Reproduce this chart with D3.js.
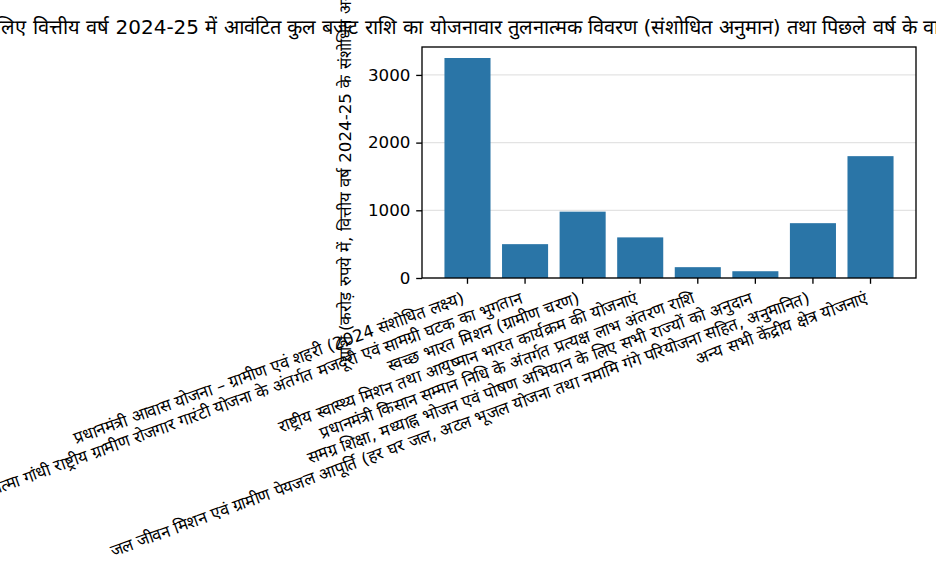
<!DOCTYPE html>
<html lang="hi">
<head>
<meta charset="utf-8">
<title>योजनावार बजट राशि</title>
<script src="https://cdn.jsdelivr.net/npm/d3@7/dist/d3.min.js"></script>
<style>
  body { margin: 0; background: #fff; }
  svg { display: block; font-family: "DejaVu Sans", sans-serif; }
</style>
</head>
<body>
<svg id="svg" width="936" height="572"></svg>
<script>
// --- data
var categories = [
  "प्रधानमंत्री आवास योजना – ग्रामीण एवं शहरी (2024 संशोधित लक्ष्य)",
  "महात्मा गांधी राष्ट्रीय ग्रामीण रोजगार गारंटी योजना के अंतर्गत मजदूरी एवं सामग्री घटक का भुगतान",
  "स्वच्छ भारत मिशन (ग्रामीण चरण)",
  "राष्ट्रीय स्वास्थ्य मिशन तथा आयुष्मान भारत कार्यक्रम की योजनाएं",
  "प्रधानमंत्री किसान सम्मान निधि के अंतर्गत प्रत्यक्ष लाभ अंतरण राशि",
  "समग्र शिक्षा, मध्याह्न भोजन एवं पोषण अभियान के लिए सभी राज्यों को अनुदान",
  "जल जीवन मिशन एवं ग्रामीण पेयजल आपूर्ति (हर घर जल, अटल भूजल योजना तथा नमामि गंगे परियोजना सहित, अनुमानित)",
  "अन्य सभी केंद्रीय क्षेत्र योजनाएं"
];
var values = [3250, 500, 980, 600, 160, 100, 810, 1800];
var yTicks = [0, 1000, 2000, 3000];

var titleText = "भारत सरकार की प्रमुख केंद्रीय योजनाओं के लिए वित्तीय वर्ष 2024-25 में आवंटित कुल बजट राशि का योजनावार तुलनात्मक विवरण (संशोधित अनुमान) तथा पिछले वर्ष के वास्तविक व्यय के साथ इन योजनाओं की प्रगति का संक्षिप्त विश्लेषण एवं आगामी वर्ष के प्रस्तावित लक्ष्य";
var yLabelText = "राशि (करोड़ रुपये में, वित्तीय वर्ष 2024-25 के संशोधित अनुमान)";

// --- axes box (matplotlib-like, 120 dpi)
var axLeft = 422, axRight = 916, axTop = 47, axBottom = 278;
var tickLen = 5.8, pad = 5.8;

var svg = d3.select("#svg");
svg.append("rect").attr("width", 936).attr("height", 572).attr("fill", "#fff");

var x = d3.scaleBand()
    .domain(categories)
    .range([axLeft, axRight])
    .paddingInner(0.2)
    .paddingOuter(0.39);

var y = d3.scaleLinear()
    .domain([0, d3.max(values) * 1.05])
    .range([axBottom, axTop]);

// grid
svg.append("g")
  .selectAll("line")
  .data(yTicks)
  .enter().append("line")
    .attr("x1", axLeft).attr("x2", axRight)
    .attr("y1", function(d) { return y(d); })
    .attr("y2", function(d) { return y(d); })
    .attr("stroke", "#e3e3e3")
    .attr("stroke-width", 1.2);

// bars
svg.append("g")
  .selectAll("rect")
  .data(values)
  .enter().append("rect")
    .attr("x", function(d, i) { return x(categories[i]); })
    .attr("y", function(d) { return y(d); })
    .attr("width", x.bandwidth())
    .attr("height", function(d) { return axBottom - y(d); })
    .attr("fill", "#2a75a7");

// y axis
var yAxis = svg.append("g")
    .attr("transform", "translate(" + axLeft + ",0)")
    .call(d3.axisLeft(y).tickValues(yTicks).tickSize(tickLen).tickPadding(pad).tickFormat(d3.format("d")));
yAxis.select(".domain").remove();
yAxis.selectAll(".tick line").attr("stroke", "#000").attr("stroke-width", 1.33);
yAxis.selectAll(".tick text")
    .attr("fill", "#000")
    .style("font-family", "DejaVu Sans")
    .style("font-size", "16.7px");

// x axis
var xAxis = svg.append("g")
    .attr("transform", "translate(0," + axBottom + ")")
    .call(d3.axisBottom(x).tickSize(tickLen).tickFormat(""));
xAxis.select(".domain").remove();
xAxis.selectAll(".tick line").attr("stroke", "#000").attr("stroke-width", 1.33);

// rotated x tick labels, right end hanging under the tick
svg.append("g")
  .selectAll("text")
  .data(categories)
  .enter().append("text")
    .attr("transform", function(d) {
      var cx = x(d) + x.bandwidth() / 2 - 2;
      return "translate(" + cx + "," + (axBottom + tickLen + pad + 13) + ") rotate(-20)";
    })
    .attr("text-anchor", "end")
    .style("font-size", "16.7px")
    .text(function(d) { return d; });

// frame
svg.append("rect")
    .attr("x", axLeft).attr("y", axTop)
    .attr("width", axRight - axLeft).attr("height", axBottom - axTop)
    .attr("fill", "none")
    .attr("stroke", "#000")
    .attr("stroke-width", 1.33);

// y label
svg.append("text")
    .attr("transform", "translate(351," + ((axTop + axBottom) / 2) + ") rotate(-90)")
    .attr("text-anchor", "middle")
    .style("font-size", "16.7px")
    .text(yLabelText);

// title
svg.append("text")
    .attr("x", (axLeft + axRight) / 2)
    .attr("y", 34)
    .attr("text-anchor", "middle")
    .style("font-size", "20px")
    .text(titleText);
</script>
</body>
</html>
